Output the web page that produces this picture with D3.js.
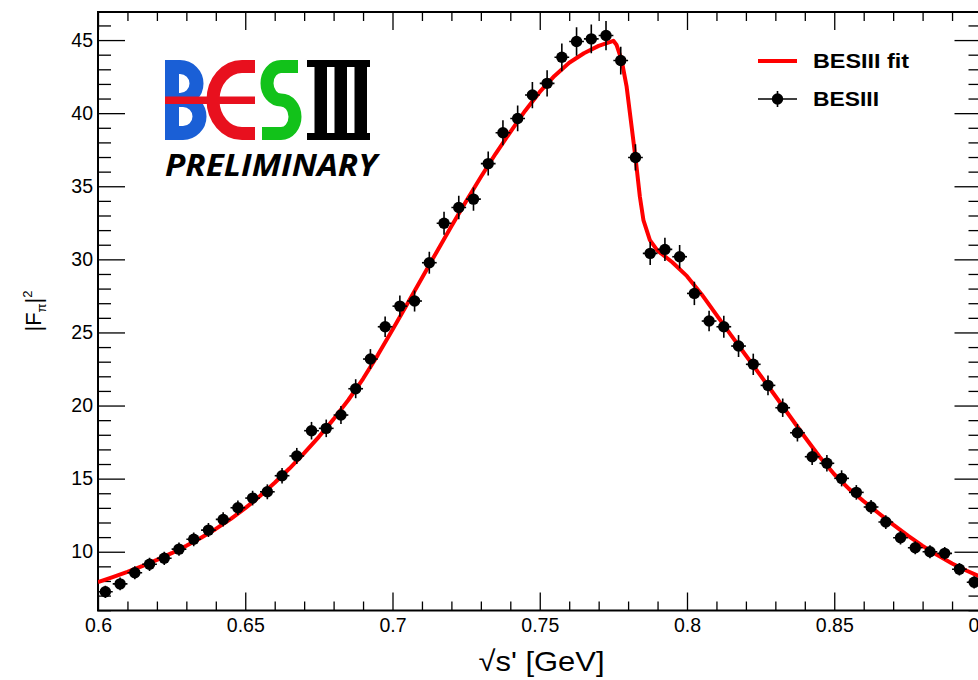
<!DOCTYPE html>
<html><head><meta charset="utf-8">
<script src="https://cdn.jsdelivr.net/npm/d3@7"></script>
<style>html,body{margin:0;padding:0;background:#fff;} svg{display:block;font-family:"Liberation Sans",Arial,Helvetica,sans-serif;}</style>
</head><body><svg id="c" width="978" height="680"></svg>
<script>
const energies = [0.6025,0.6075,0.6125,0.6175,0.6225,0.6275,0.6325,0.6375,0.6425,0.6475,
  0.6525,0.6575,0.6625,0.6675,0.6725,0.6775,0.6825,0.6875,0.6925,0.6975,
  0.7025,0.7075,0.7125,0.7175,0.7225,0.7275,0.7325,0.7375,0.7425,0.7475,
  0.7525,0.7575,0.7625,0.7675,0.7725,0.7775,0.7825,0.7875,0.7925,0.7975,
  0.8025,0.8075,0.8125,0.8175,0.8225,0.8275,0.8325,0.8375,0.8425,0.8475,
  0.8525,0.8575,0.8625,0.8675,0.8725,0.8775,0.8825,0.8875,0.8925,0.8975];
const formFactor = [7.26,7.8,8.56,9.14,9.55,10.18,10.85,11.48,12.21,13.01,
  13.67,14.1,15.2,16.55,18.28,18.44,19.35,21.15,23.18,25.39,
  26.8,27.15,29.77,32.47,33.55,34.12,36.55,38.66,39.64,41.24,
  42.04,43.82,44.9,45.08,45.31,43.6,36.97,30.41,30.68,30.18,
  27.67,25.78,25.39,24.07,22.82,21.38,19.85,18.14,16.5,16.05,
  15.02,14.06,13.06,12.03,10.96,10.27,10.0,9.89,8.8,7.91];
const formFactorErr = [0.42,0.43,0.44,0.45,0.45,0.46,0.47,0.48,0.49,0.5,
  0.5,0.51,0.53,0.55,0.6,0.6,0.62,0.65,0.68,0.7,
  0.72,0.72,0.75,0.78,0.8,0.8,0.82,0.85,0.88,0.9,
  0.9,0.95,0.97,0.98,1.0,0.95,0.9,0.8,0.8,0.8,
  0.8,0.7,0.75,0.75,0.73,0.68,0.63,0.6,0.57,0.57,
  0.55,0.5,0.48,0.47,0.46,0.45,0.45,0.44,0.43,0.42];
const binHalfWidth = 0.0025;
const fitEnergy = [0.600,0.605,0.610,0.615,0.620,0.625,0.630,0.635,0.640,0.645,
  0.650,0.655,0.660,0.665,0.670,0.675,0.680,0.685,0.690,0.695,
  0.700,0.705,0.710,0.715,0.720,0.725,0.730,0.735,0.740,0.745,
  0.750,0.755,0.760,0.765,0.770,0.775,0.7761,0.7778,0.7795,0.7812,
  0.7826,0.7840,0.7852,0.7874,0.790,0.795,0.800,0.805,0.810,0.815,
  0.820,0.825,0.830,0.835,0.840,0.845,0.850,0.855,0.860,0.865,
  0.870,0.875,0.880,0.885,0.890,0.895,0.900];
const fitValue = [7.93,8.27,8.63,9.02,9.44,9.9,10.41,10.96,11.56,12.23,
  12.98,13.81,14.72,15.69,16.74,17.86,19.07,20.38,21.83,23.45,
  25.18,26.94,28.72,30.51,32.27,33.98,35.63,37.22,38.71,40.15,
  41.45,42.55,43.45,44.1,44.6,44.95,44.66,43.63,41.81,39.07,
  36.79,34.28,32.69,31.32,30.6,29.8,28.85,27.6,26.2,24.8,
  23.42,22.05,20.65,19.25,17.85,16.5,15.3,14.3,13.45,12.65,
  11.85,11.1,10.4,9.77,9.2,8.7,8.25];
const xTickLabels = ["0.6","0.65","0.7","0.75","0.8","0.85","0.9"];
const yTickLabels = ["10","15","20","25","30","35","40","45"];
const legendLabels = ["BESIII fit","BESIII"];

const pL=98, pR=981.5, pT=12, pB=610.5;
const x = d3.scaleLinear().domain([0.6,0.9]).range([pL,pR]);
const y = d3.scaleLinear().domain([5.98,46.92]).range([pB,pT]);
const svg = d3.select("#c");
svg.append("rect").attr("width",978).attr("height",680).attr("fill","#fff");
svg.append("defs").append("clipPath").attr("id","clip").append("rect")
  .attr("x",pL).attr("y",pT).attr("width",pR-pL).attr("height",pB-pT);

const xMajor = xTickLabels.map(Number);
const yMajor = yTickLabels.map(Number);
const xMinor = d3.range(60,91).map(v=>v/100).filter(v=>!xMajor.some(m=>Math.abs(m-v)<1e-6));
const yMinor = d3.range(6,47).filter(v=>!yMajor.includes(v));
const fmtX = d => xTickLabels[xMajor.findIndex(m=>Math.abs(m-d)<1e-6)];

function styleAxis(g){ g.select(".domain").remove(); g.selectAll("line").attr("stroke","#000").attr("stroke-width",1.3); g.selectAll("text").attr("font-size",19.5).attr("fill","#000").attr("font-family","Liberation Sans, Arial, sans-serif"); }

svg.append("g").attr("transform",`translate(0,${pB})`).call(d3.axisBottom(x).tickValues(xMajor).tickSize(-18).tickPadding(8).tickFormat(fmtX)).call(styleAxis);
svg.append("g").attr("transform",`translate(0,${pB})`).call(d3.axisBottom(x).tickValues(xMinor).tickSize(-9).tickFormat("")).call(styleAxis);
svg.append("g").attr("transform",`translate(0,${pT})`).call(d3.axisTop(x).tickValues(xMajor).tickSize(-18).tickFormat("")).call(styleAxis);
svg.append("g").attr("transform",`translate(0,${pT})`).call(d3.axisTop(x).tickValues(xMinor).tickSize(-9).tickFormat("")).call(styleAxis);
svg.append("g").attr("transform",`translate(${pL},0)`).call(d3.axisLeft(y).tickValues(yMajor).tickSize(-27).tickPadding(5).tickFormat((d,i)=>yTickLabels[i])).call(styleAxis);
svg.append("g").attr("transform",`translate(${pL},0)`).call(d3.axisLeft(y).tickValues(yMinor).tickSize(-13).tickFormat("")).call(styleAxis);
svg.append("g").attr("transform",`translate(${pR},0)`).call(d3.axisRight(y).tickValues(yMajor).tickSize(-27).tickFormat("")).call(styleAxis);
svg.append("g").attr("transform",`translate(${pR},0)`).call(d3.axisRight(y).tickValues(yMinor).tickSize(-13).tickFormat("")).call(styleAxis);

svg.append("rect").attr("x",pL).attr("y",pT).attr("width",pR-pL).attr("height",pB-pT)
  .attr("fill","none").attr("stroke","#000").attr("stroke-width",2);

const fitData = fitEnergy.map((e,i)=>[e,fitValue[i]]);
svg.append("path").datum(fitData).attr("clip-path","url(#clip)")
  .attr("d",d3.line().x(d=>x(d[0])).y(d=>y(d[1])).curve(d3.curveLinear))
  .attr("fill","none").attr("stroke","#ff0000").attr("stroke-width",4).attr("stroke-linejoin","round");

const pts = energies.map((e,i)=>({e, v:formFactor[i], err:formFactorErr[i]}));
const pg = svg.append("g").attr("clip-path","url(#clip)");
pg.selectAll(".ev").data(pts).join("line").attr("class","ev")
  .attr("x1",d=>x(d.e)).attr("x2",d=>x(d.e)).attr("y1",d=>y(d.v-d.err)).attr("y2",d=>y(d.v+d.err))
  .attr("stroke","#000").attr("stroke-width",1.6);
pg.selectAll(".eh").data(pts).join("line").attr("class","eh")
  .attr("x1",d=>x(d.e-binHalfWidth)).attr("x2",d=>x(d.e+binHalfWidth)).attr("y1",d=>y(d.v)).attr("y2",d=>y(d.v))
  .attr("stroke","#000").attr("stroke-width",1.6);
pg.selectAll("circle").data(pts).join("circle")
  .attr("cx",d=>x(d.e)).attr("cy",d=>y(d.v)).attr("r",5.7).attr("fill","#000");

svg.append("text").attr("x",541.5).attr("y",671).attr("text-anchor","middle")
  .attr("font-size",28.5).attr("fill","#000").attr("textLength",126).attr("lengthAdjust","spacingAndGlyphs").text("\u221As' [GeV]");
const yt = svg.append("text").attr("transform","translate(41,311) rotate(-90)").attr("text-anchor","middle")
  .attr("font-size",22).attr("fill","#000");
yt.append("tspan").text("|F");
yt.append("tspan").attr("font-size",13).attr("dy",5).text("\u03C0");
yt.append("tspan").attr("dy",-5).text("|");
yt.append("tspan").attr("font-size",13).attr("dy",-9).text("2");

const lg = svg.append("g");
lg.append("line").attr("x1",758).attr("x2",797).attr("y1",61).attr("y2",61).attr("stroke","#ff0000").attr("stroke-width",4);
lg.append("line").attr("x1",758).attr("x2",797).attr("y1",99).attr("y2",99).attr("stroke","#000").attr("stroke-width",1.6);
lg.append("line").attr("x1",777.5).attr("x2",777.5).attr("y1",91).attr("y2",107).attr("stroke","#000").attr("stroke-width",1.6);
lg.append("circle").attr("cx",777.5).attr("cy",99).attr("r",5.7).attr("fill","#000");
lg.append("text").attr("x",813).attr("y",68).attr("font-size",21).attr("font-weight","bold").attr("textLength",96).attr("lengthAdjust","spacingAndGlyphs").text(legendLabels[0]);
lg.append("text").attr("x",813).attr("y",106).attr("font-size",21).attr("font-weight","bold").attr("textLength",66).attr("lengthAdjust","spacingAndGlyphs").text(legendLabels[1]);

const logo = svg.append("g");
logo.append("path").attr("d","M172,60 V140 M172,67 H180 A16.5,16.5 0 0 1 180,100 H172 M172,100 H183 A16.5,16.5 0 0 1 183,133 H172")
  .attr("fill","none").attr("stroke","#1a5fd6").attr("stroke-width",14);
logo.append("path").attr("d","M255,66.5 H242 A29,33.5 0 0 0 242,133.5 H255")
  .attr("fill","none").attr("stroke","#e8101e").attr("stroke-width",13);
logo.append("rect").attr("x",165).attr("y",96.5).attr("width",90).attr("height",7.5).attr("fill","#e8101e");
logo.append("path").attr("d","M298,66.5 H281 A14,16.75 0 0 0 281,100 A14,16.75 0 0 1 281,133.5 H262")
  .attr("fill","none").attr("stroke","#12c21a").attr("stroke-width",13);
logo.append("rect").attr("x",307).attr("y",60).attr("width",63).attr("height",7).attr("fill","#000");
logo.append("rect").attr("x",307).attr("y",133).attr("width",63).attr("height",7).attr("fill","#000");
[314.5,334.5,354.5].forEach(sx=>logo.append("rect").attr("x",sx).attr("y",60).attr("width",12.5).attr("height",80).attr("fill","#000"));
logo.append("text").attr("x",165).attr("y",176).attr("font-family","'Open Sans', sans-serif").attr("font-weight","bold").attr("font-style","italic")
  .attr("font-size",30).attr("textLength",212).attr("lengthAdjust","spacingAndGlyphs").attr("fill","#000").text("PRELIMINARY");
</script></body></html>
